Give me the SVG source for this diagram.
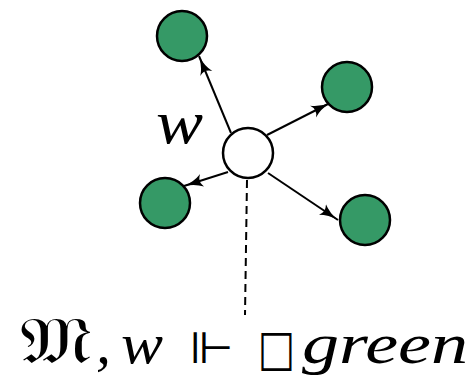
<svg xmlns="http://www.w3.org/2000/svg" width="473" height="379" viewBox="0 0 473 379">
<style>
.g{fill:#359966;stroke:#000;stroke-width:2.5}
.w{fill:#fff;stroke:#000;stroke-width:2.5}
.e{stroke:#000;stroke-width:2;fill:none}
.d{stroke:#000;stroke-width:2;stroke-dasharray:8,5;fill:none}
.m{font-family:"Liberation Serif",serif;font-style:italic}
.u{font-family:"DejaVu Sans",sans-serif}
</style>
<defs>
<marker id="a" viewBox="0 0 20 14" refX="19" refY="7" markerWidth="20" markerHeight="14" markerUnits="userSpaceOnUse" orient="auto">
<path d="M0,0.5 Q8,6 19,7 Q8,8 0,13.5 Q5,7 0,0.5 Z" fill="#000"/>
</marker>
</defs>
<g id="connectors">
<line class="e" x1="231" y1="133" x2="199" y2="56" marker-end="url(#a)"/>
<line class="e" x1="267" y1="135" x2="330" y2="103" marker-end="url(#a)"/>
<line class="e" x1="228" y1="172" x2="184" y2="186" marker-end="url(#a)"/>
<line class="e" x1="268" y1="173" x2="338" y2="220" marker-end="url(#a)"/>
<line class="d" x1="247" y1="180" x2="245" y2="315"/>
</g>
<g id="n1"><circle class="g" cx="182" cy="36" r="25"/></g>
<g id="n2"><circle class="g" cx="347" cy="87" r="25"/></g>
<g id="n3"><circle class="g" cx="165" cy="203" r="25"/></g>
<g id="n4"><circle class="g" cx="365" cy="220" r="25"/></g>
<g id="w"><circle class="w" cx="248" cy="153" r="25"/>
<text class="m" x="156" y="143" font-size="62" textLength="47" lengthAdjust="spacingAndGlyphs">w</text></g>
<g id="formula">
<text class="u" x="20" y="363" font-size="66" textLength="72" lengthAdjust="spacingAndGlyphs">𝔐</text>
<text class="m" x="96" y="363" font-size="60">,</text>
<text class="m" x="121" y="363" font-size="58" textLength="42" lengthAdjust="spacingAndGlyphs">w</text>
<text class="u" x="189" y="363" font-size="44" textLength="45" lengthAdjust="spacingAndGlyphs">⊩</text>
<text class="u" x="258" y="365" font-size="50" textLength="37" lengthAdjust="spacingAndGlyphs">□</text>
<text class="m" x="302" y="363" font-size="58" textLength="166" lengthAdjust="spacingAndGlyphs">green</text>
</g>
</svg>
